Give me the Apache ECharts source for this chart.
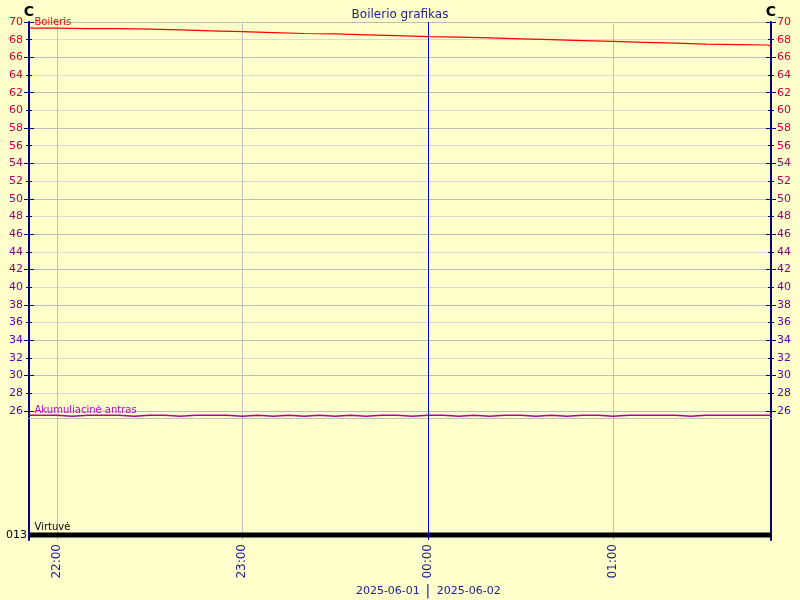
<!DOCTYPE html>
<html><head><meta charset="utf-8">
<script src="https://cdn.jsdelivr.net/npm/echarts@6/dist/echarts.min.js"></script>
<style>html,body{margin:0;padding:0;background:#ffffcc}#c{width:800px;height:600px}</style>
</head><body><div id="c"></div>
<script>
// ---- data ----
const rangeStart = '21:51';
const rangeEnd = '01:51';
const hourTicks = ['22:00', '23:00', '00:00', '01:00'];
const midnight = '00:00';
const dateLeft = '2025-06-01';
const dateRight = '2025-06-02';

const boilerisTimes = ['21:51','22:00','22:10','22:20','22:30','22:40','22:50','23:00','23:10','23:20','23:30','23:40','23:50','00:00','00:10','00:20','00:30','00:40','00:50','01:00','01:10','01:20','01:30','01:40','01:50','01:51'];
const boilerisValues = [69.3,69.25,69.25,69.2,69.1,69.0,68.9,68.8,68.7,68.65,68.55,68.45,68.35,68.3,68.2,68.1,68.0,67.9,67.8,67.7,67.6,67.5,67.45,67.4,67.2,67.2];

const akumTimes = ['21:51','21:55','22:00','22:05','22:10','22:15','22:20','22:25','22:30','22:35','22:40','22:45','22:50','22:55','23:00','23:05','23:10','23:15','23:20','23:25','23:30','23:35','23:40','23:45','23:50','23:55','00:00','00:05','00:10','00:15','00:20','00:25','00:30','00:35','00:40','00:45','00:50','00:55','01:00','01:05','01:10','01:15','01:20','01:25','01:30','01:35','01:40','01:45','01:50','01:51'];
const akumValues = [25.5,25.5,25.4,25.5,25.5,25.5,25.4,25.5,25.5,25.4,25.5,25.5,25.5,25.4,25.5,25.4,25.5,25.4,25.5,25.4,25.5,25.4,25.5,25.5,25.4,25.5,25.5,25.4,25.5,25.4,25.5,25.5,25.4,25.5,25.4,25.5,25.5,25.4,25.5,25.5,25.5,25.5,25.4,25.5,25.5,25.5,25.5,25.5,25.5,25.5];

const virtuveTimes = ['21:51','01:51'];
const virtuveValues = [0, 0];

const yLabels = [26,28,30,32,34,36,38,40,42,44,46,48,50,52,54,56,58,60,62,64,66,68,70];
const majorTicks = [26,30,34,38,42,46,50,54,58,62,66,70];
const minorTicks = [28,32,36,40,44,48,52,56,60,64,68];
const yMin = 25.2, yMax = 70;

// ---- helpers ----
function toTs(hm) {
  const [h, m] = hm.split(':').map(Number);
  const day = h >= 12 ? 1 : 2;
  return new Date(2025, 5, day, h, m).getTime();
}
function pairs(ts, vs) { return ts.map((t, i) => [toTs(t), vs[i]]); }
const pad = n => (n < 10 ? '0' : '') + n;
const FONT = 'DejaVu Sans';
const AXIS = '#000080';
function labelColor(v) {
  const t = (70 - v) / 44;
  const r = Math.round(230 + (70 - 230) * t);
  const b = Math.round(30 + (200 - 30) * t);
  return 'rgb(' + r + ',0,' + b + ')';
}

function yAx(pos, ticks, inside, len, extra) {
  return Object.assign({
    type: 'value', gridIndex: 0, min: yMin, max: yMax, position: pos,
    axisLine: { show: false, onZero: false },
    axisTick: { show: true, customValues: ticks, inside: inside, length: len, lineStyle: { color: AXIS, width: 1 } },
    axisLabel: { show: false },
    splitLine: { show: false }
  }, extra || {});
}
const labelAxisExtra = () => ({
  name: 'C', nameLocation: 'end', nameGap: 10, nameMoveOverlap: false,
  nameTextStyle: { color: '#000', fontSize: 14, fontWeight: 'bold', fontFamily: FONT, align: 'center', verticalAlign: 'middle' },
  axisLine: { show: true, onZero: false, lineStyle: { color: AXIS, width: 2 } },
  axisLabel: { show: true, customValues: yLabels, margin: 6, fontSize: 11, fontFamily: FONT, color: (v) => labelColor(v) }
});

const xStart = toTs(rangeStart), xEnd = toTs(rangeEnd);
const hourTs = hourTicks.map(toTs);

const chart = echarts.init(document.getElementById('c'), null, { renderer: 'canvas' });
const option = {
  animation: false,
  backgroundColor: '#ffffcc',
  title: {
    text: 'Boilerio grafikas', left: 'center', top: 4,
    textStyle: { color: '#202090', fontSize: 12, fontWeight: 'normal', fontFamily: FONT }
  },
  grid: [
    { left: 29, right: 29, top: 22, height: 396 },
    { left: 29, right: 29, top: 418, height: 122 }
  ],
  xAxis: [
    { type: 'value', gridIndex: 0, min: xStart, max: xEnd, position: 'bottom',
      axisLine: { show: true, onZero: false, lineStyle: { color: '#c0c0c0', width: 1 } },
      axisTick: { show: false, customValues: hourTs },
      axisLabel: { show: false },
      splitLine: { show: true, lineStyle: { color: '#c0c0c0', width: 1 } } },
    { type: 'value', gridIndex: 1, min: xStart, max: xEnd, position: 'bottom',
      axisLine: { show: false, onZero: false },
      axisTick: { show: false, customValues: hourTs },
      axisLabel: { show: true, customValues: hourTs, rotate: 90, margin: 4, color: '#202090', fontSize: 12, fontFamily: FONT,
        formatter: (v) => { const d = new Date(v); return pad(d.getHours()) + ':' + pad(d.getMinutes()); } },
      splitLine: { show: true, lineStyle: { color: '#c0c0c0', width: 1 } } }
  ],
  yAxis: [
    yAx('left', majorTicks, false, 5, Object.assign(labelAxisExtra(), { splitLine: { show: true, lineStyle: { color: '#bcbcbc', width: 1 } } })),
    yAx('left', minorTicks, false, 3, { splitLine: { show: true, lineStyle: { color: '#d8d8d8', width: 1 } } }),
    yAx('left', majorTicks, true, 5),
    yAx('left', minorTicks, true, 3),
    yAx('right', majorTicks, false, 5, labelAxisExtra()),
    yAx('right', minorTicks, false, 3),
    yAx('right', majorTicks, true, 5),
    yAx('right', minorTicks, true, 3),
    { type: 'value', gridIndex: 1, min: -0.0427, max: 1, position: 'left',
      axisLine: { show: true, onZero: false, lineStyle: { color: AXIS, width: 2 } },
      axisTick: { show: false },
      axisLabel: { show: true, customValues: [0], margin: 2, color: '#000', fontSize: 11, fontFamily: FONT, formatter: () => '013' },
      splitLine: { show: false } },
    { type: 'value', gridIndex: 1, min: -0.0427, max: 1, position: 'right',
      axisLine: { show: true, onZero: false, lineStyle: { color: AXIS, width: 2 } },
      axisTick: { show: false }, axisLabel: { show: false }, splitLine: { show: false } }
  ],
  series: [
    { name: 'midnight0', type: 'line', xAxisIndex: 0, yAxisIndex: 0, data: [], z: 1,
      markLine: { silent: true, symbol: ['none', 'none'], label: { show: false },
        lineStyle: { color: '#0000c0', width: 1, type: 'solid' }, data: [{ xAxis: toTs(midnight) }] } },
    { name: 'Boileris', type: 'line', xAxisIndex: 0, yAxisIndex: 0, step: 'end', showSymbol: false, z: 3,
      data: pairs(boilerisTimes, boilerisValues),
      lineStyle: { color: '#ff0000', width: 1.2 }, itemStyle: { color: '#ff0000' },
      markPoint: { silent: true, symbol: 'circle', symbolSize: 1, itemStyle: { color: 'rgba(0,0,0,0)' },
        label: { show: true, position: 'right', distance: 5, offset: [0, -6], formatter: 'Boileris', color: '#ff0000', fontSize: 10, fontFamily: FONT },
        data: [{ coord: [toTs(boilerisTimes[0]), boilerisValues[0]] }] } },
    { name: 'Akumuliacinė antras', type: 'line', xAxisIndex: 0, yAxisIndex: 0, step: 'end', showSymbol: false, z: 3,
      data: pairs(akumTimes, akumValues),
      lineStyle: { color: '#a800a8', width: 1.5 }, itemStyle: { color: '#a800a8' },
      markPoint: { silent: true, symbol: 'circle', symbolSize: 1, itemStyle: { color: 'rgba(0,0,0,0)' },
        label: { show: true, position: 'right', distance: 5, offset: [0, -5], formatter: 'Akumuliacinė antras', color: '#c000c0', fontSize: 10, fontFamily: FONT },
        data: [{ coord: [toTs(akumTimes[0]), akumValues[0]] }] } },
    { name: 'midnight1', type: 'line', xAxisIndex: 1, yAxisIndex: 8, data: [], z: 1,
      markLine: { silent: true, symbol: ['none', 'none'], label: { show: false },
        lineStyle: { color: '#0000c0', width: 1, type: 'solid' }, data: [{ xAxis: toTs(midnight) }] } },
    { name: 'Virtuvė', type: 'line', xAxisIndex: 1, yAxisIndex: 8, showSymbol: false, z: 3,
      data: pairs(virtuveTimes, virtuveValues),
      lineStyle: { color: '#000000', width: 5 }, itemStyle: { color: '#000' },
      markPoint: { silent: true, symbol: 'circle', symbolSize: 1, itemStyle: { color: 'rgba(0,0,0,0)' },
        label: { show: true, position: 'right', distance: 5, offset: [0, -8], formatter: 'Virtuvė', color: '#000', fontSize: 10, fontFamily: FONT },
        data: [{ coord: [toTs(virtuveTimes[0]), virtuveValues[0]] }] } }
  ]
};
chart.setOption(option);

const mx = chart.convertToPixel({ xAxisIndex: 1 }, toTs(midnight));
chart.setOption({
  graphic: [
    { type: 'text', x: mx - 8, y: 591, silent: true, style: { text: dateLeft, fill: '#202090', font: '11px DejaVu Sans', textAlign: 'right', textVerticalAlign: 'middle' } },
    { type: 'text', x: mx, y: 591, silent: true, style: { text: '|', fill: '#202090', font: '14px DejaVu Sans', textAlign: 'center', textVerticalAlign: 'middle' } },
    { type: 'text', x: mx + 9, y: 591, silent: true, style: { text: dateRight, fill: '#202090', font: '11px DejaVu Sans', textAlign: 'left', textVerticalAlign: 'middle' } }
  ]
});
</script>
</body></html>
